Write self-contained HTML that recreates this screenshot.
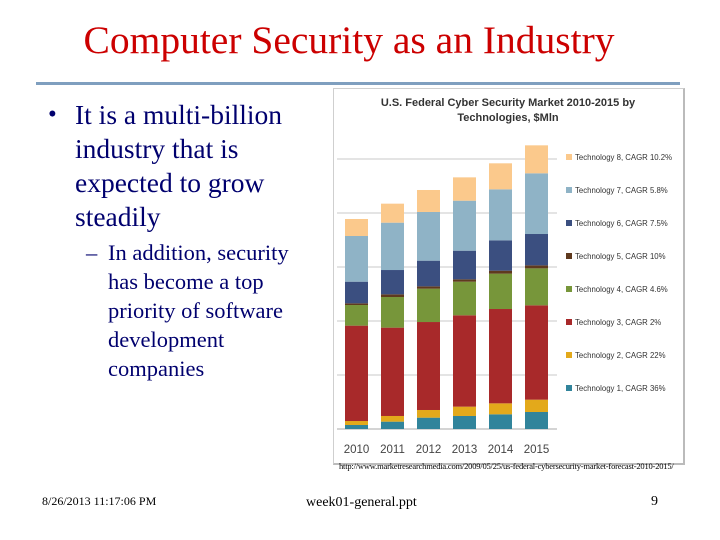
<!DOCTYPE html>
<html><head><meta charset="utf-8"><style>
body{margin:0;width:720px;height:540px;background:#fff;position:relative;overflow:hidden;font-family:"Liberation Serif",serif}
.abs{position:absolute}
</style></head><body>
<div class="abs" style="left:0;width:698px;top:17px;text-align:center;font-size:39.5px;color:#cc0000;line-height:46px">Computer Security as an Industry</div>
<div class="abs" style="left:36px;top:82px;width:644px;height:3px;background:#7f9fbf"></div>
<div class="abs" style="left:48px;top:98px;width:270px;font-size:27.5px;line-height:34px;color:#00006e">
<span style="position:absolute;left:0;top:0;font-size:25px">•</span><div style="margin-left:27px">It is a multi-billion industry that is expected to grow steadily</div></div>
<div class="abs" style="left:86px;top:238px;width:222px;font-size:22.5px;line-height:29px;color:#00006e">
<span style="position:absolute;left:0;top:0">–</span><div style="margin-left:22px">In addition, security has become a top priority of software development companies</div></div>
<div class="abs" style="left:333px;top:88px;width:349px;height:374px;border:1px solid #cfcfcf;border-right:2px solid #bbb;border-bottom:2px solid #bbb"></div>
<svg class="abs" style="left:0;top:0" width="720" height="540">
<g id="g"></g>
</svg>
<div class="abs" style="left:339px;top:461px;font-size:8.5px;color:#000;letter-spacing:-0.2px;white-space:nowrap">http://www.marketresearchmedia.com/2009/05/25/us-federal-cybersecurity-market-forecast-2010-2015/</div>
<div class="abs" style="left:42px;top:494px;font-size:12px">8/26/2013 11:17:06 PM</div>
<div class="abs" style="left:306px;top:495px;font-size:14px">week01-general.ppt</div>
<div class="abs" style="left:651px;top:494px;font-size:14px">9</div>
<script>
const years=["2010","2011","2012","2013","2014","2015"];
const tech1=[7.4,13.6,21,24.1,27.2,31.5];
const tech2=[7.4,10.5,14.2,17.3,20.3,22.8];
const tech3=[176.6,163.6,162.9,169.1,174.7,174.7];
const tech4=[38.2,56.7,61.8,62.3,65.5,68.5];
const tech5=[3.1,5,4.3,4.4,5.5,5.6];
const tech6=[40.1,45,47.5,53,56.2,58];
const tech7=[84.6,87.7,90.2,92.6,94.4,112.4];
const tech8=[31.5,35.2,40.7,43.2,48.2,51.8];
const legendLabels=["Technology 8, CAGR 10.2%","Technology 7, CAGR 5.8%","Technology 6, CAGR 7.5%","Technology 5, CAGR 10%","Technology 4, CAGR 4.6%","Technology 3, CAGR 2%","Technology 2, CAGR 22%","Technology 1, CAGR 36%"];
const gridTicks=[0,100,200,300,400,500];
const series=[tech1,tech2,tech3,tech4,tech5,tech6,tech7,tech8];
const colors=["#31849b","#e3a91b","#a8292a","#77963a","#5f3a1e","#3b4f80","#8fb3c6","#fbc98c"];
const NS="http://www.w3.org/2000/svg",g=document.getElementById('g');
const y=v=>429-v*0.54, x=i=>345+i*36, bw=23;
function mk(t,a){const e=document.createElementNS(NS,t);for(const k in a)e.setAttribute(k,a[k]);g.appendChild(e);return e;}
gridTicks.forEach(t=>{const l=mk('line',{x1:337,x2:557,y1:y(t),y2:y(t),stroke:t?'#c8c8c8':'#aaa','stroke-width':1});

});
years.forEach((yr,i)=>{let acc=0;
series.forEach((s,k)=>{const r=mk('rect',{x:x(i),y:y(acc+s[i]),width:bw,height:s[i]*0.54,fill:colors[k]});

acc+=s[i];});
const t=mk('text',{x:x(i)+bw/2,y:453,'text-anchor':'middle','font-size':11.5,fill:'#444','font-family':'Liberation Sans, sans-serif'});t.textContent=yr;

});
legendLabels.forEach((lb,j)=>{const ly=157+j*33;
const r=mk('rect',{x:566,y:ly-3,width:6,height:6,fill:colors[7-j]});


const t=mk('text',{x:575,y:ly+3,'font-size':7.8,fill:'#333','font-family':'Liberation Sans, sans-serif'});t.textContent=lb;

});
[["U.S. Federal Cyber Security Market 2010-2015 by",106],["Technologies, $Mln",121]].forEach(([s,yy])=>{
const t=mk('text',{x:508,y:yy,'text-anchor':'middle','font-size':11,'font-weight':'bold',fill:'#333','font-family':'Liberation Sans, sans-serif'});t.textContent=s;

});
</script>
</body></html>
